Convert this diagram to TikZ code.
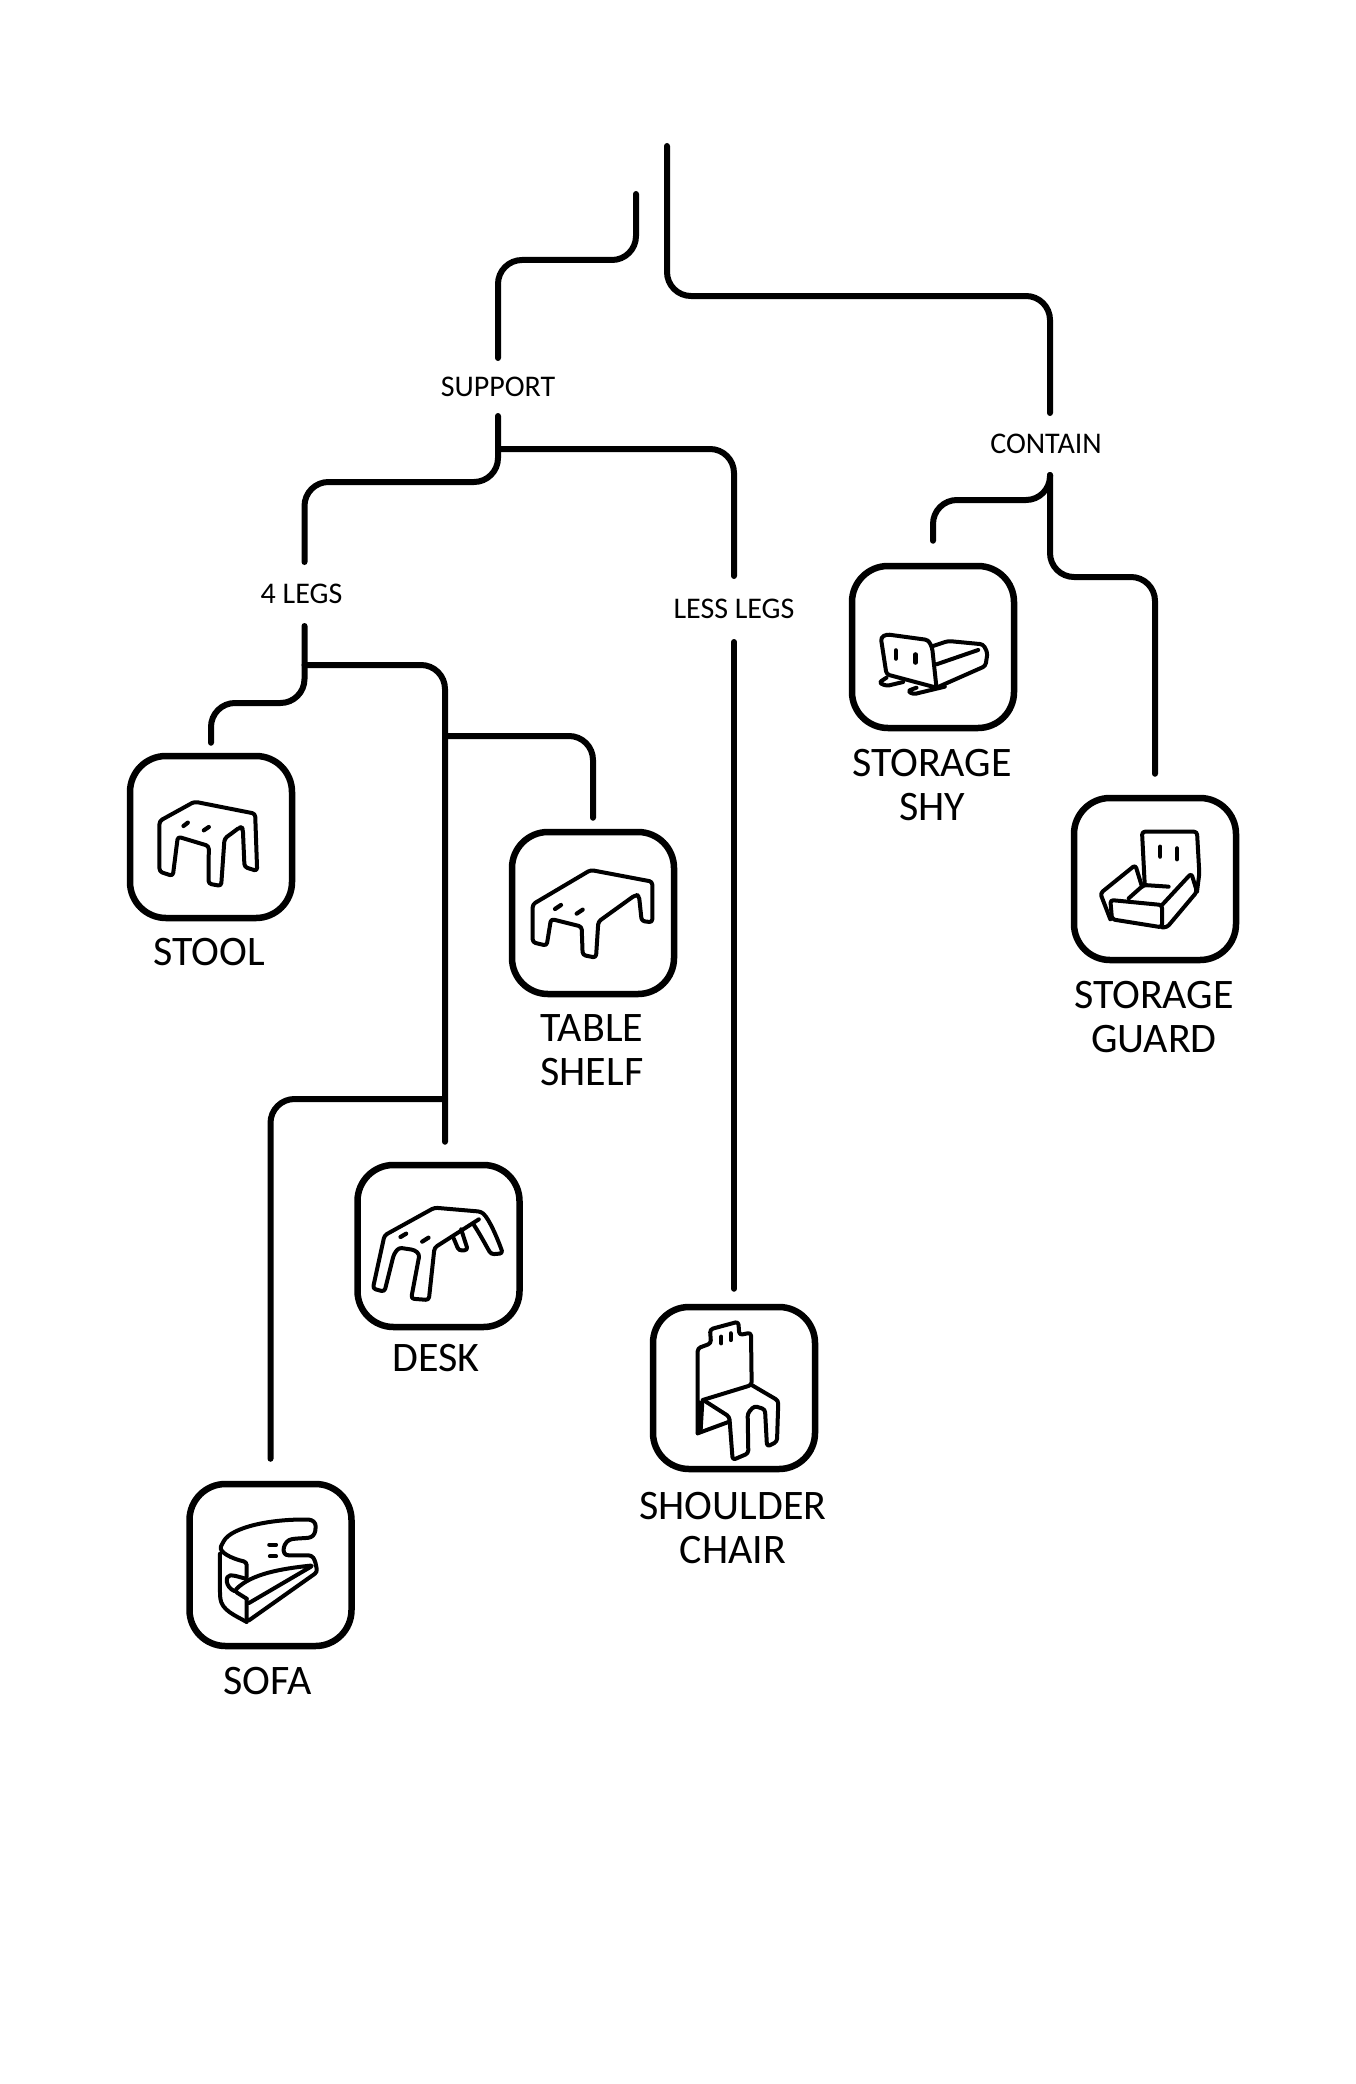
\documentclass[tikz,border=0pt]{standalone}
\usepackage{fontspec}
\setmainfont{Carlito}
\usetikzlibrary{positioning}

\tikzset{
    wire/.style={line width=6pt, line cap=round, rounded corners=24pt},
    tag/.style={inner sep=0pt, outer sep=0pt, minimum height=60pt, font=\fontsize{30}{32}\selectfont},
    iconbox/.style={draw, line width=6.5pt, rounded corners=36pt, minimum size=162pt, inner sep=0pt},
    caption/.style={inner sep=0pt, align=center, font=\fontsize{42}{44}\selectfont},
    glyph/.style={line width=4pt, line join=round, line cap=round, rounded corners=3pt},
    slot/.style={line width=4.2pt, line cap=round}
}

\begin{document}
\begin{tikzpicture}[x=1pt, y=-1pt]
    \useasboundingbox (0,0) rectangle (1355,2084);

    \coordinate (trunk) at (667,146);
    \coordinate (stem) at (636,194);

    \node[tag, minimum height=58pt] (support) at (498,387) {SUPPORT};
    \node[tag, minimum height=62pt] (contain) at (1046,444) {CONTAIN};
    \node[tag, minimum height=64pt] (fourlegs) at (301.5,594) {4 LEGS};
    \node[tag, minimum height=66pt] (lesslegs) at (734,609) {LESS LEGS};

    \node[iconbox] (stool) at (211,837) {};
    \node[iconbox] (shelf) at (593,913) {};
    \node[iconbox] (desk) at (438.5,1246) {};
    \node[iconbox] (sofa) at (270.5,1565) {};
    \node[iconbox] (chair) at (734,1388) {};
    \node[iconbox] (shy) at (933,647) {};
    \node[iconbox] (guard) at (1155,879) {};

    \node[caption] (stoolname) at (209,952) {STOOL};
    \node[caption] (shelfname) at (592,1050) {TABLE\\SHELF};
    \node[caption] (deskname) at (436,1358) {DESK};
    \node[caption] (sofaname) at (267.5,1681) {SOFA};
    \node[caption] (chairname) at (733,1528) {SHOULDER\\CHAIR};
    \node[caption] (shyname) at (932,785) {STORAGE\\SHY};
    \node[caption] (guardname) at (1154,1017) {STORAGE\\GUARD};

    % top of the tree
    \draw[wire] (stem) -- ++(0,66) -| (support.north);
    \draw[wire] (trunk) -- ++(0,150) -| ([xshift=4pt]contain.north);

    % support side
    \draw[wire] (support.south) -- ++(0,66) -| ([xshift=3pt]fourlegs.north);
    \draw[wire] ([yshift=-33pt]support.south) -| (lesslegs.north);
    \draw[wire, shorten >=15pt] (lesslegs.south) -- (chair.north);

    % four legged things
    \coordinate (shelffork) at (445,736);
    \coordinate (sofafork) at (445,1099);
    \draw[wire, shorten >=10pt] ([xshift=3pt]fourlegs.south) -- ++(0,77) -| (stool.north);
    \draw[wire, shorten >=20pt] ([xshift=3pt,yshift=-39pt]fourlegs.south) -| ([xshift=6.5pt]desk.north);
    \draw[wire, shorten >=11pt] (shelffork) -| (shelf.north);
    \draw[wire, shorten >=22pt] (sofafork) -| (sofa.north);

    % contain side
    \draw[wire, shorten >=22pt] ([xshift=4pt]contain.south) -- ++(0,25) -| (shy.north);
    \draw[wire, shorten >=21pt] ([xshift=4pt]contain.south) -- ++(0,102) -| (guard.north);

    % stool
    \begin{scope}[shift={(109.5,741)}, x=0.3333pt, y=-0.3333pt]
        \draw[glyph] (150,240) -- (255,182) -- (437,218) -- (443,390) -- (405,378) -- (400,262) -- (392,258) -- (345,293) -- (335,435) -- (297,428) -- (298,315) -- (205,287) -- (190,405) -- (150,392) -- cycle;
        \draw[slot] (222,255) -- (235,245);
        \draw[slot] (283,268) -- (298,258);
    \end{scope}

    % table shelf
    \begin{scope}[shift={(490,815)}, x=0.3333pt, y=-0.3333pt]
        \draw[glyph] (128,268) -- (302,165) -- (487,200) -- (487,322) -- (455,318) -- (447,242) -- (436,240) -- (325,320) -- (318,428) -- (278,420) -- (275,335) -- (183,312) -- (170,392) -- (128,382) -- cycle;
        \draw[slot] (195,282) -- (213,270);
        \draw[slot] (260,296) -- (278,284);
    \end{scope}

    % desk
    \begin{scope}[shift={(339.5,1146)}, x=0.3333pt, y=-0.3333pt]
        \draw[glyph] (418,220) -- (285,305) -- (268,462) -- (215,458) -- (240,325) -- (225,312) -- (178,305) -- (163,325) -- (135,437) -- (100,428) -- (135,268) -- (285,185) -- (425,197) .. controls (450,220) and (475,280) .. (490,322) -- (455,325) .. controls (440,300) and (425,270) .. (402,235);
        \draw[glyph] (343,278) -- (358,314) -- (385,312) -- (365,250);
        \draw[slot] (183,273) -- (200,263);
        \draw[slot] (248,287) -- (267,275);
    \end{scope}

    % sofa
    \begin{scope}[shift={(175,1467)}, x=0.3333pt, y=-0.3333pt]
        \draw[glyph] (215,330) -- (215,285) .. controls (170,275) and (130,255) .. (142,230) .. controls (170,180) and (290,155) .. (410,158) -- (423,170) -- (420,200) -- (408,212) -- (360,215) .. controls (325,220) and (315,265) .. (350,265) -- (410,265) -- (420,280) -- (427,315) -- (215,465) -- (215,395);
        \draw[glyph] (135,260) -- (135,385) .. controls (140,430) and (180,445) .. (215,465);
        \draw[glyph] (215,395) -- (178,372) .. controls (230,320) and (320,305) .. (415,295) -- (222,408);
        \draw[glyph] (178,372) .. controls (150,360) and (150,325) .. (175,325) -- (212,335);
        \draw[slot] (283,233) -- (303,233);
        \draw[slot] (285,268) -- (303,268);
    \end{scope}

    % shoulder chair
    \begin{scope}[shift={(641,1290)}, x=0.3333pt, y=-0.3333pt]
        \draw[glyph] (170,430) -- (170,175) -- (210,160) -- (207,118) -- (292,95) -- (295,135) -- (330,128) -- (332,285) -- (185,330);
        \draw[glyph] (332,285) -- (412,332) -- (408,455) -- (378,470) -- (372,358) -- (340,348) -- (320,370) -- (322,490) -- (275,510) -- (265,380) -- (190,332);
        \draw[glyph] (170,430) -- (265,395);
        \fill (170,330) -- (190,335) -- (185,420) -- (170,430) -- cycle;
        \draw[slot] (241,140) -- (241,160);
        \draw[slot] (269,130) -- (269,150);
    \end{scope}

    % storage shy
    \begin{scope}[shift={(841.5,556)}, x=0.3333pt, y=-0.3333pt]
        \draw[glyph] (118,245) -- (135,235) -- (260,252) -- (272,275) -- (285,395) -- (135,355) -- cycle;
        \draw[glyph] (275,270) -- (320,255) -- (425,265) -- (438,290) -- (432,330) -- (285,395);
        \draw[glyph] (285,325) -- (410,282);
        \draw[glyph] (135,365) -- (112,380) -- (135,390) -- (185,378);
        \draw[glyph] (225,395) -- (198,405) -- (215,415) -- (310,392);
        \draw[slot] (163,283) -- (163,308);
        \draw[slot] (222,295) -- (222,320);
    \end{scope}

    % storage guard
    \begin{scope}[shift={(1062,790)}, x=0.3333pt, y=-0.3333pt]
        \draw[glyph] (248,280) -- (240,125) -- (405,125) -- (412,250) -- (405,305);
        \draw[glyph] (300,345) -- (388,250) -- (405,305) -- (315,412) -- (300,412);
        \draw[glyph] (145,330) -- (300,345) -- (300,412) -- (150,388) -- cycle;
        \draw[glyph] (145,388) -- (115,310) -- (220,225) -- (240,290);
        \draw[glyph] (200,325) -- (245,285) -- (320,290);
        \draw[slot] (295,170) -- (295,200);
        \draw[slot] (345,175) -- (345,208);
    \end{scope}
\end{tikzpicture}
\end{document}
